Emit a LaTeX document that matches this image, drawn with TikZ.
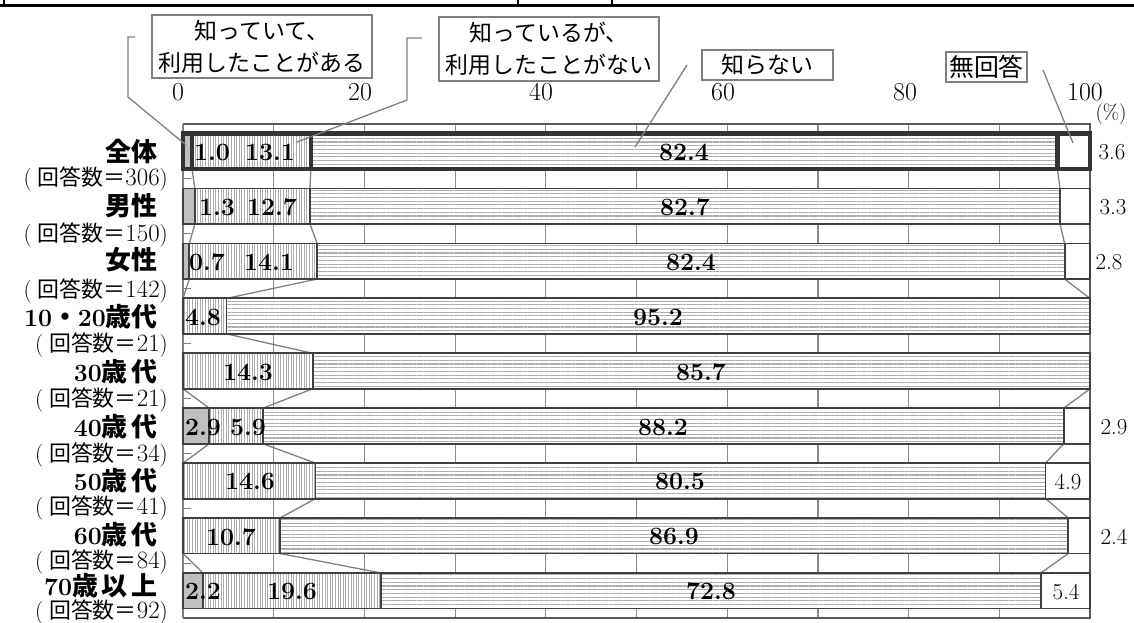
\documentclass[tikz,border=0pt]{standalone}
\usepackage{fontspec}
\newfontfamily\jp{Noto Sans CJK JP}
\usetikzlibrary{patterns.meta}
\definecolor{edge}{HTML}{404040}
\definecolor{thickedge}{HTML}{333333}
\definecolor{frame}{HTML}{595959}
\definecolor{gridc}{HTML}{8C8C8C}
\definecolor{seg1}{HTML}{BFBFBF}
\definecolor{stripe}{HTML}{ADADAD}
\definecolor{lead}{HTML}{808080}
\tikzset{
  bar/.style={draw=edge, line width=1.8bp},
  s1/.style={bar, fill=seg1},
  s2/.style={bar, preaction={fill=white}, pattern={Lines[angle=90,distance=2.6bp,line width=0.7bp]}, pattern color=stripe},
  s3/.style={bar, preaction={fill=white}, pattern={Lines[angle=0,distance=3.7bp,line width=1.1bp]}, pattern color=stripe},
  s4/.style={bar, fill=white},
  val/.style={font=\fontsize{25}{25}\selectfont\bfseries, inner sep=0},
  rval/.style={font=\fontsize{23}{23}\selectfont, inner sep=0},
  axlab/.style={font=\fontsize{26}{26}\selectfont, inner sep=0},
  catlab/.style={anchor=east, inner sep=0, font=\fontsize{25}{25}\selectfont\bfseries},
  cntlab/.style={anchor=east, inner sep=0, font=\fontsize{23}{23}\selectfont},
  legbox/.style={draw=lead, line width=1.4bp, fill=white, inner sep=0, align=center,
    font=\jp\fontsize{23}{32}\selectfont},
  leader/.style={draw=lead, line width=1.3bp},
  series/.style={draw=lead, line width=1.3bp},
}
\newcommand{\jk}[1]{{\jp\fontsize{22}{22}\selectfont #1}}
\newcommand{\ck}[1]{{\jp\fontsize{26}{26}\selectfont #1}}
\newcommand{\cnt}[1]{(\hspace{6bp}\jk{回答数＝}{\fontsize{25}{25}\selectfont #1})}
\begin{document}
\begin{tikzpicture}[x=1bp,y=-1bp]
\useasboundingbox (0,0) rectangle (1134,623);
\fill[white] (0,0) rectangle (1134,623);
% top rule (cropped table edge)
\draw[line width=3.5bp,black] (0,5.5) -- (1134,5.5);
\draw[line width=1.5bp,black] (518,0) -- (518,5) (612,0) -- (612,5) (4,0) -- (4,5);
% grid
\foreach \k in {1,...,9} \draw[gridc,line width=1.2bp] ({183+90.7*\k},124) -- ({183+90.7*\k},618);
% left ticks
\foreach \k in {1,...,8} \draw[lead,line width=1.2bp] (183,{124+54.9*\k}) -- (191,{124+54.9*\k});
% frame
\draw[frame,line width=1.5bp] (183,124) -- (1090,124) -- (1090,618) -- (183,618);
\draw[lead,line width=1.5bp] (183,124) -- (183,618);
% axis labels
\foreach \v/\x in {0/178,20/360,40/541,60/723,80/905,100/1085}
  \node[axlab] (ax\v) at (\x,92) {\v};
\node[font=\fontsize{21}{21}\selectfont, inner sep=0] (pct) at (1111,114) {(\%)};
% series lines
\foreach \i/\a/\b/\c/\A/\B/\C in {
  0/1.0/14.1/96.4/1.3/14.0/96.7,
  1/1.3/14.0/96.7/0.7/14.8/97.2,
  2/0.7/14.8/97.2/0/4.8/100,
  3/0/4.8/100/0/14.3/100,
  4/0/14.3/100/2.9/8.8/97.1,
  5/2.9/8.8/97.1/0/14.6/95.1,
  6/0/14.6/95.1/0/10.7/97.6,
  7/0/10.7/97.6/2.2/21.8/94.6}{
  \pgfmathsetmacro\yb{124+54.9*\i+9.7+35.5}
  \pgfmathsetmacro\yn{124+54.9*(\i+1)+9.7}
  \draw[series] ({183+9.07*\a},\yb) -- ({183+9.07*\A},\yn);
  \draw[series] ({183+9.07*\b},\yb) -- ({183+9.07*\B},\yn);
  \draw[series] ({183+9.07*\c},\yb) -- ({183+9.07*\C},\yn);
}
% bars
\foreach \i/\p/\q/\r/\lw/\ec in {
  1/1.3/14.0/96.7/1.8/edge,
  2/0.7/14.8/97.2/1.8/edge,
  3/0/4.8/100/1.8/edge,
  4/0/14.3/100/1.8/edge,
  5/2.9/8.8/97.1/1.8/edge,
  6/0/14.6/95.1/1.8/edge,
  7/0/10.7/97.6/1.8/edge,
  8/2.2/21.8/94.6/1.8/edge,
  0/1.0/14.1/96.4/4.6/thickedge}{
  \pgfmathsetmacro\yt{124+54.9*\i+9.7}
  \pgfmathsetmacro\yb{\yt+35.5}
  \pgfmathsetmacro\xp{183+9.07*\p}
  \pgfmathsetmacro\xq{183+9.07*\q}
  \pgfmathsetmacro\xr{183+9.07*\r}
  \path[s2, line width=\lw bp, draw=\ec] (\xp,\yt) rectangle (\xq,\yb);
  \path[s3, line width=\lw bp, draw=\ec] (\xq,\yt) rectangle (\xr,\yb);
  \path[s4, line width=\lw bp, draw=\ec] (\xr,\yt) rectangle (1090,\yb);
  \path[s1, line width=\lw bp, draw=\ec] (183,\yt) rectangle (\xp,\yb);
}
% values
\foreach \i/\x/\t in {0/212/1.0, 0/270/13.1, 0/684/82.4,
  1/217/1.3, 1/272/12.7, 1/685/82.7,
  2/207/0.7, 2/269/14.1, 2/691/82.4,
  3/203/4.8, 3/658/95.2,
  4/248/14.3, 4/701/85.7,
  5/203/2.9, 5/248/5.9, 5/663/88.2,
  6/250/14.6, 6/680/80.5,
  7/231/10.7, 7/674/86.9,
  8/203/2.2, 8/292/19.6, 8/711/72.8}{
  \node[val] (v\i-\x) at (\x,{124+54.9*\i+28.5}) {\t};
}
\foreach \i/\x/\t in {0/1112/3.6, 1/1113/3.3, 2/1109/2.8, 5/1114/2.9,
  6/1068/4.9, 7/1114/2.4, 8/1066/5.4}{
  \node[rval] (r\i) at (\x,{124+54.9*\i+28.5}) {\t};
}
% category labels
\node[catlab] (c0) at (158,152) {\ck{全体}};
\node[catlab] (c1) at (158,206) {\ck{男性}};
\node[catlab] (c2) at (158,260) {\ck{女性}};
\node[catlab] (c3) at (158,317) {10\ck{・}20\ck{歳代}};
\node[catlab] (c4) at (158,372) {30\ck{歳\hspace{4bp}代}};
\node[catlab] (c5) at (158,427) {40\ck{歳\hspace{4bp}代}};
\node[catlab] (c6) at (158,481) {50\ck{歳\hspace{4bp}代}};
\node[catlab] (c7) at (158,535) {60\ck{歳\hspace{4bp}代}};
\node[catlab] (c8) at (158,586) {70\ck{歳\hspace{4bp}以\hspace{4bp}上}};
\node[cntlab] (n0) at (168,179) {\cnt{306}};
\node[cntlab] (n1) at (168,235) {\cnt{150}};
\node[cntlab] (n2) at (168,291) {\cnt{142}};
\node[cntlab] (n3) at (168,345) {\cnt{21}};
\node[cntlab] (n4) at (168,400) {\cnt{21}};
\node[cntlab] (n5) at (168,455) {\cnt{34}};
\node[cntlab] (n6) at (168,508) {\cnt{41}};
\node[cntlab] (n7) at (168,562) {\cnt{84}};
\node[cntlab] (n8) at (168,612) {\cnt{92}};
% legend boxes
\node[legbox, minimum width=220bp, minimum height=63bp] (lg1) at (262,46.5) {知っていて、\\利用したことがある};
\node[legbox, minimum width=220bp, minimum height=64bp] (lg2) at (549,49) {知っているが、\\利用したことがない};
\node[legbox, minimum width=131bp, minimum height=30bp] (lg3) at (767.5,65) {知らない};
\node[legbox, minimum width=81bp, minimum height=30bp, font=\jp\fontsize{25}{25}\selectfont] (lg4) at (986.5,67) {無回答};
% leader lines
\coordinate (l1a) at (135,37); \coordinate (l1b) at (128,37); \coordinate (l1c) at (128,97); \coordinate (l1d) at (186,145);
\draw[leader] (l1a) -- (l1b) -- (l1c) -- (l1d);
\coordinate (l2a) at (422,38); \coordinate (l2b) at (407,38); \coordinate (l2c) at (407,100); \coordinate (l2d) at (297,142);
\draw[leader] (l2a) -- (l2b) -- (l2c) -- (l2d);
\coordinate (l3a) at (687,65); \coordinate (l3d) at (635,147);
\draw[leader] (l3a) -- (l3d);
\coordinate (l4a) at (1043,70); \coordinate (l4d) at (1073,143);
\draw[leader] (l4a) -- (l4d);
\end{tikzpicture}
\end{document}
